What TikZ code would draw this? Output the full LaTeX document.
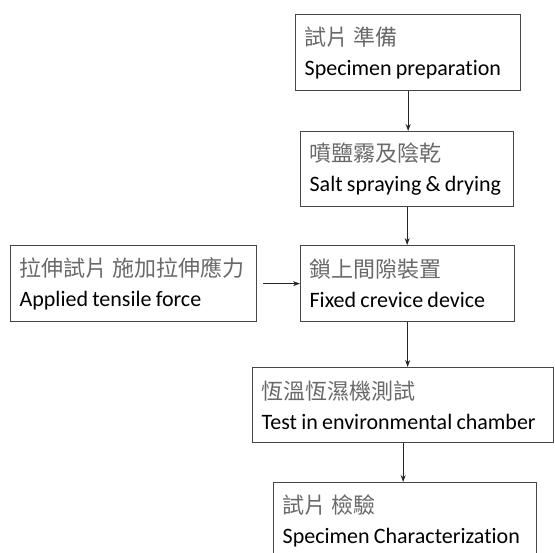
\documentclass[tikz,border=0pt]{standalone}
\usepackage{fontspec}
\setmainfont{Carlito}[WordSpace=0.85, Ligatures=NoCommon]
\newfontfamily\cjk{Noto Sans CJK TC}
\usepackage{tikz}
\usetikzlibrary{arrows.meta}
\definecolor{cjkgray}{RGB}{105,105,105}
\definecolor{edgegray}{RGB}{70,70,70}
\newcommand\steptext[2]{{\cjk\color{cjkgray}\mbox{#1}}\\\mbox{#2}}

\begin{document}
\begin{tikzpicture}[x=1pt, y=-1pt,
		stepbox/.style={draw=edgegray, line width=1.3pt, anchor=north west, align=flush left,
			inner xsep=9pt, inner ysep=0pt, font=\fontsize{22}{30}\selectfont},
		flow/.style={-{Stealth[length=7pt,width=5pt]}, line width=1.1pt, draw=black!85}]
	\useasboundingbox (0,0) rectangle (555,553);
	\clip (0,0) rectangle (555,553);
	\node[stepbox, text width=207pt, minimum height=76pt] (prep) at (295,14) {\steptext{試片\hspace{5pt}準備}{Specimen preparation}};
	\node[stepbox, text width=195pt, minimum height=75pt] (salt) at (300,131) {\steptext{噴鹽霧及陰乾}{Salt spraying \& drying}};
	\node[stepbox, text width=228pt, minimum height=76pt] (tensile) at (10,245) {\steptext{拉伸試片\hspace{5pt}施加拉伸應力}{Applied tensile force}};
	\node[stepbox, text width=196pt, minimum height=76pt] (crevice) at (300,245) {\steptext{鎖上間隙裝置}{Fixed crevice device}};
	\node[stepbox, text width=283pt, minimum height=75pt] (chamber) at (252,367) {\steptext{恆溫恆濕機測試}{Test in environmental chamber}};
	\node[stepbox, text width=245pt, minimum height=76pt] (charact) at (273,482) {\steptext{試片\hspace{5pt}檢驗}{Specimen Characterization}};
	\draw[flow] (prep.south) -- (prep.south |- salt.north);
	\draw[flow] (salt.south) -- (salt.south |- crevice.north);
	\draw[flow, shorten <=6pt] (tensile) -- (crevice);
	\draw[flow] (crevice.south) -- (crevice.south |- chamber.north);
	\draw[flow] (chamber.south) -- (chamber.south |- charact.north);
\end{tikzpicture}
\end{document}
